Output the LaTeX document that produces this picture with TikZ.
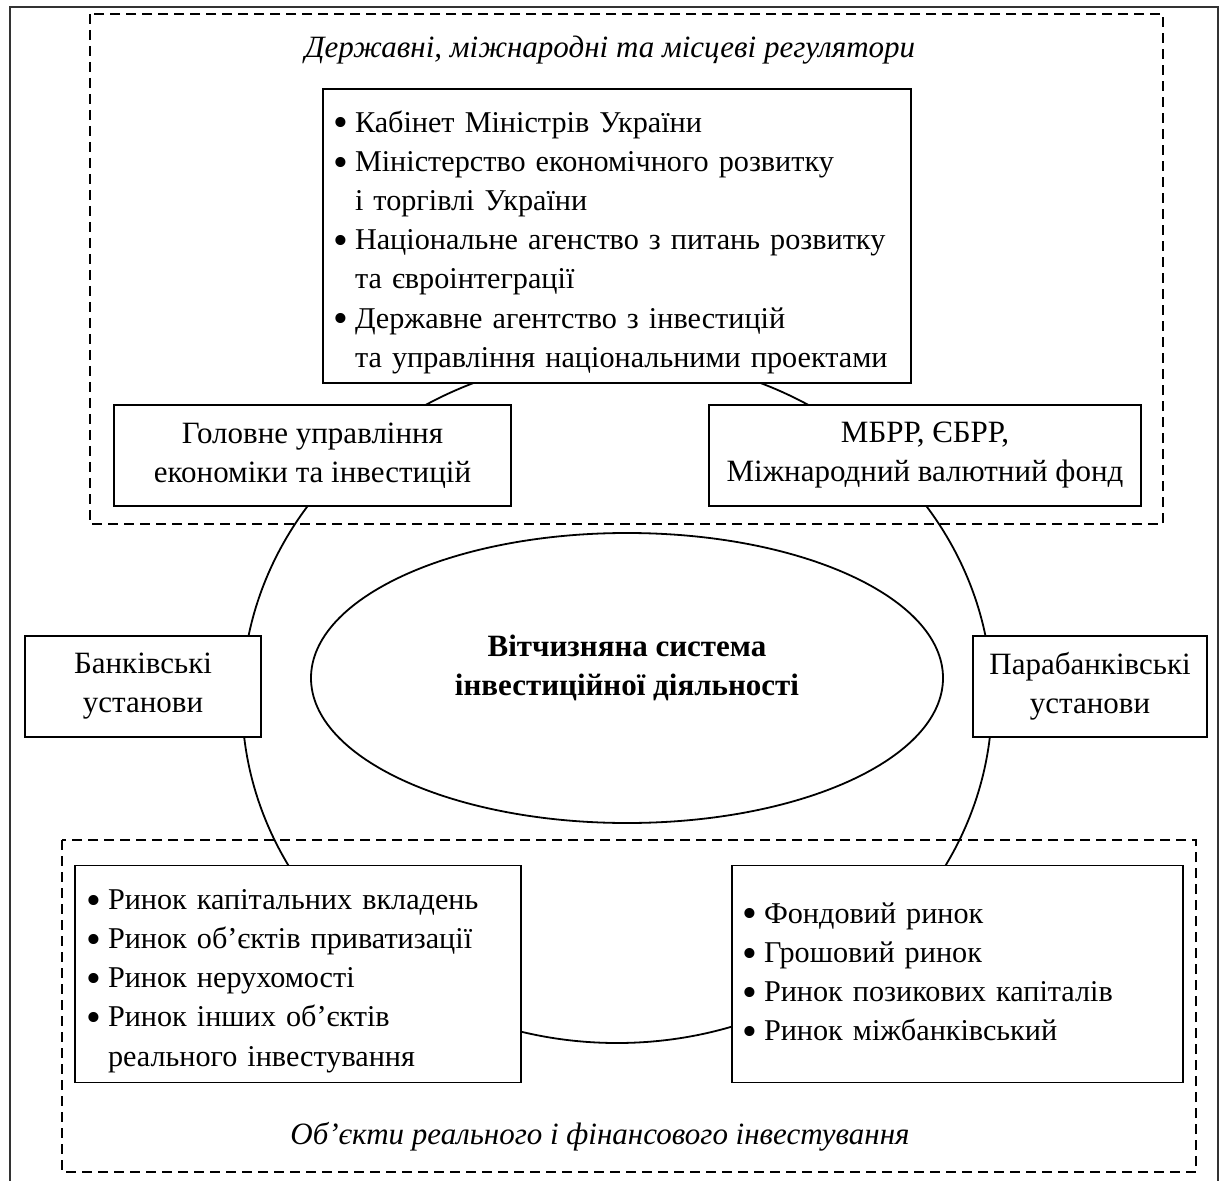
\documentclass[tikz,border=0pt]{standalone}
\usepackage{fontspec}
\setmainfont{Liberation Serif}
\usetikzlibrary{shapes.geometric}

\newcommand{\blt}{\makebox[11pt][l]{\raisebox{-2.4pt}{\scalebox{1.4}{•}}}}
\newcommand{\cnt}{\hspace*{11pt}}
\newcommand{\lift}{\rule{0pt}{17pt}}

\begin{document}
\begin{tikzpicture}[x=0.5pt,y=-0.5pt,
  every node/.style={font=\fontsize{15.5}{19.5}\selectfont},
  box/.style={draw,line width=0.8pt,fill=white,rectangle,align=center,inner sep=0pt},
  listbox/.style={box,align=left,inner xsep=5pt,font=\fontsize{15.1}{19.6}\selectfont},
  zone/.style={draw,line width=0.8pt,dash pattern=on 5pt off 3pt},
  ring/.style={draw,line width=0.9pt}]

\useasboundingbox (0,0) rectangle (1219,1181);
\draw[line width=0.9pt,black!80] (10,1190) -- (10,7) -- (1218,7) -- (1218,1190);

% big ring behind everything
\draw[ring] (617,700) ellipse [x radius=375, y radius=343];

% dashed zones
\draw[zone] (90,14) rectangle (1163,524);
\draw[zone] (62,840) rectangle (1196,1172);

\node (t1) at (610,50) {\itshape Державні, міжнародні та місцеві регулятори};
\node (t2) at (600,1137) {\itshape Об’єкти реального і фінансового інвестування};

% regulators
\node[listbox,minimum width=294pt,minimum height=147pt,text width=284pt] (reg) at (617,236)
  {\lift\blt Кабінет Міністрів України\\
   \blt Міністерство економічного розвитку\\
   \cnt і торгівлі України\\
   \blt Національне агенство з питань розвитку\\
   \cnt та євроінтеграції\\
   \blt Державне агентство з інвестицій\\
   \cnt та управління національними проектами};
\node[box,minimum width=198.5pt,minimum height=50.5pt] (gu) at (312.5,455.5)
  {Головне управління\\економіки та інвестицій};
\node[box,minimum width=216pt,minimum height=50.5pt] (mb) at (925,455.5)
  {МБРР, ЄБРР,\\Міжнародний валютний фонд};

% side institutions
\node[box,minimum width=118pt,minimum height=50.5pt] (bank) at (143,686.5)
  {Банківські\\установи};
\node[box,minimum width=117pt,minimum height=50.5pt] (para) at (1090,686.5)
  {Парабанківські\\установи};

% centre
\node[ring,ellipse,minimum width=316pt,minimum height=145pt,inner sep=0pt] (sys) at (627,678) {};
\node[font=\fontsize{15.5}{19.5}\selectfont\bfseries,align=center] (systxt) at (627,668)
  {Вітчизняна система\\інвестиційної діяльності};

% markets
\node[listbox,minimum width=223pt,minimum height=108.5pt,text width=212pt,inner xsep=5.5pt] (real) at (298,974)
  {\lift\blt Ринок капітальних вкладень\\
   \blt Ринок об’єктів приватизації\\
   \blt Ринок нерухомості\\
   \blt Ринок інших об’єктів\\
   \cnt реального інвестування};
\node[listbox,minimum width=225.5pt,minimum height=108.5pt,text width=215.5pt] (fin) at (957.5,974)
  {\blt Фондовий ринок\\
   \blt Грошовий ринок\\
   \blt Ринок позикових капіталів\\
   \blt Ринок міжбанківський};

\end{tikzpicture}
\end{document}
